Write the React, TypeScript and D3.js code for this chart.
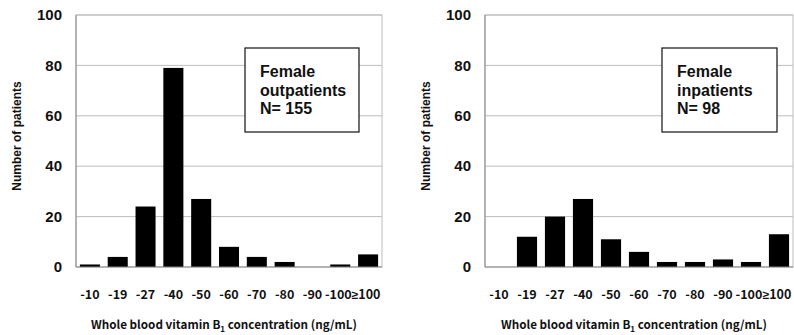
import React, { useEffect, useRef } from 'react';
import * as d3 from 'd3';

const categories = ['-10', '-19', '-27', '-40', '-50', '-60', '-70', '-80', '-90', '-100', '≥100'];
const outpatients = [1, 4, 24, 79, 27, 8, 4, 2, 0, 1, 5];
const inpatients = [0, 12, 20, 27, 11, 6, 2, 2, 3, 2, 13];
const yTicks = [0, 20, 40, 60, 80, 100];

interface PanelProps {
  values: number[];
  label: string[];
  left: number;
  right: number;
  box: { x: number; y: number; w: number; h: number };
}

function drawPanel(svg: d3.Selection<SVGSVGElement, unknown, null, undefined>, p: PanelProps) {
  const top = 15;
  const bottom = 267;
  const g = svg.append('g');

  const x = d3.scaleBand<string>()
    .domain(categories)
    .range([p.left, p.right])
    .paddingInner(0.28)
    .paddingOuter(0.14);

  const y = d3.scaleLinear().domain([0, 100]).range([bottom, top]);

  // gridlines
  g.selectAll('.grid')
    .data(yTicks.filter(t => t > 0))
    .enter()
    .append('line')
    .attr('x1', p.left)
    .attr('x2', p.right)
    .attr('y1', d => y(d))
    .attr('y2', d => y(d))
    .attr('stroke', '#bdbdbd')
    .attr('stroke-width', 1);

  // plot border
  g.append('rect')
    .attr('x', p.left)
    .attr('y', top)
    .attr('width', p.right - p.left)
    .attr('height', bottom - top)
    .attr('fill', 'none')
    .attr('stroke', '#bdbdbd');

  g.append('line')
    .attr('x1', p.left).attr('x2', p.left)
    .attr('y1', top).attr('y2', bottom)
    .attr('stroke', '#888');

  // bars
  g.selectAll('.bar')
    .data(p.values)
    .enter()
    .append('rect')
    .attr('x', (_, i) => x(categories[i])!)
    .attr('width', x.bandwidth())
    .attr('y', d => y(d))
    .attr('height', d => bottom - y(d))
    .attr('fill', '#000');

  g.append('line')
    .attr('x1', p.left).attr('x2', p.right)
    .attr('y1', bottom).attr('y2', bottom)
    .attr('stroke', '#888');

  // y tick labels
  g.selectAll('.ytick')
    .data(yTicks)
    .enter()
    .append('text')
    .attr('x', p.left - 14)
    .attr('y', d => y(d))
    .attr('dy', '0.35em')
    .attr('text-anchor', 'end')
    .style('font-family', 'Liberation Sans, Arial, sans-serif')
    .style('font-weight', 'bold')
    .style('font-size', '15px')
    .attr('fill', '#111')
    .text(d => d);

  // x tick labels
  const xt = g.selectAll('.xtick')
    .data(categories)
    .enter()
    .append('text')
    .attr('x', d => x(d)! + x.bandwidth() / 2 - (d.startsWith('≥') || d === '-100' ? 2 : 0))
    .attr('y', 295)
    .attr('dy', '0.35em')
    .attr('text-anchor', 'middle')
    .style('font-family', '"Noto Sans CJK JP", sans-serif')
    .style('font-weight', 'bold')
    .style('font-size', '12.5px')
    .attr('fill', '#111');
  xt.each(function (d) {
    const t = d3.select(this);
    if (d.startsWith('≥')) {
      t.append('tspan')
        .style('font-family', 'Liberation Sans, Arial, sans-serif')
        .style('font-size', '12px')
        .text('≥');
      t.append('tspan').text(d.slice(1));
    } else {
      t.text(d);
    }
  });

  // x title
  const title = g.append('text')
    .attr('x', (p.left + p.right) / 2 - 5)
    .attr('y', 325)
    .attr('dy', '0.35em')
    .attr('text-anchor', 'middle')
    .style('font-family', '"Noto Sans CJK JP", sans-serif')
    .style('font-weight', 'bold')
    .style('font-size', '11.7px')
    .attr('fill', '#111');
  title.append('tspan').text('Whole blood vitamin B');
  title.append('tspan').attr('dy', 3).style('font-size', '8px').text('1');
  title.append('tspan').attr('dy', -3).text(' concentration (ng/mL)');

  // y title
  g.append('text')
    .attr('transform', `translate(${p.left - 59},136) rotate(-90)`)
    .attr('text-anchor', 'middle')
    .attr('dy', '0.35em')
    .style('font-family', 'Liberation Sans, Arial, sans-serif')
    .style('font-weight', 'bold')
    .style('font-size', '12px')
    .attr('fill', '#111')
    .text('Number of patients');

  // label box
  g.append('rect')
    .attr('x', p.box.x)
    .attr('y', p.box.y)
    .attr('width', p.box.w)
    .attr('height', p.box.h)
    .attr('fill', '#fff')
    .attr('stroke', '#111')
    .attr('stroke-width', 1.2);

  g.selectAll('.boxtext')
    .data(p.label)
    .enter()
    .append('text')
    .attr('x', p.box.x + 15)
    .attr('y', (_, i) => p.box.y + 29 + i * 18.5)
    .style('font-family', 'Liberation Sans, Arial, sans-serif')
    .style('font-weight', 'bold')
    .style('font-size', '16px')
    .attr('fill', '#111')
    .text(d => d);
}

export default function App() {
  const svgRef = useRef<SVGSVGElement>(null);

  useEffect(() => {
    if (!svgRef.current) return;
    const svg = d3.select(svgRef.current);
    svg.selectAll('*').remove();

    drawPanel(svg, {
      values: outpatients,
      label: ['Female', 'outpatients', 'N= 155'],
      left: 76,
      right: 382,
      box: { x: 245, y: 48, w: 114, h: 84 },
    });
    drawPanel(svg, {
      values: inpatients,
      label: ['Female', 'inpatients', 'N= 98'],
      left: 485,
      right: 793,
      box: { x: 662, y: 48, w: 115, h: 84 },
    });
  }, []);

  return (
    <svg
      ref={svgRef}
      width={794}
      height={335}
      style={{ position: 'absolute', left: 0, top: 0, background: '#fff' }}
    />
  );
}
